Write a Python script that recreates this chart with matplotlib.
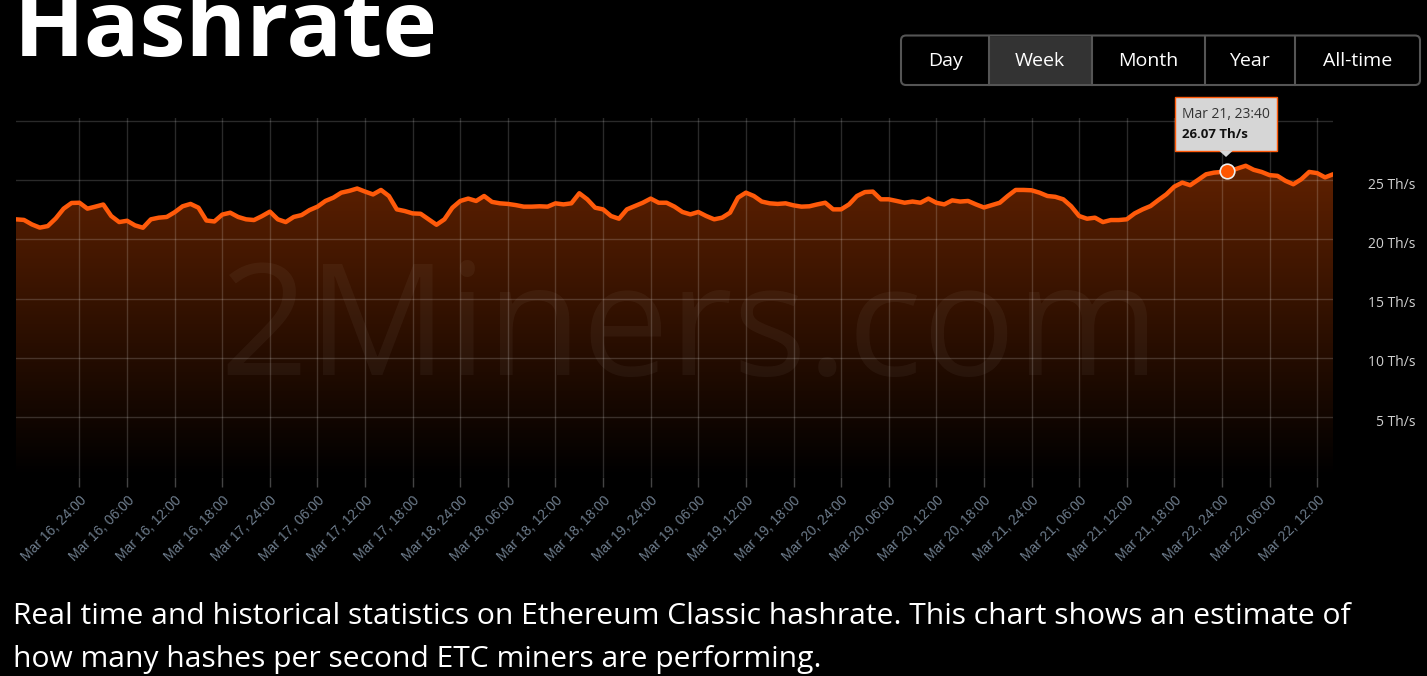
import numpy as np
import matplotlib
matplotlib.use("Agg")
import matplotlib.pyplot as plt
import matplotlib.transforms as mtransforms
from matplotlib.patches import FancyBboxPatch, Rectangle, Polygon

# --- data (hours from Mar 16 00:00) ---
hours = np.arange(-8, 159)
hashrate = np.array([
    21.70, 21.65, 21.27, 21.00, 21.13, 21.77, 22.60, 23.08,   # -8 .. -1
    23.10, 22.60, 22.77, 22.95, 21.98, 21.47, 21.58, 21.19,   # 0 .. 7
    20.99, 21.70, 21.84, 21.90, 22.30, 22.80, 23.00, 22.68,   # 8 .. 15
    21.60, 21.52, 22.10, 22.26, 21.90, 21.70, 21.64, 21.97,   # 16 .. 23
    22.35, 21.70, 21.47, 21.90, 22.06, 22.48, 22.77, 23.25,   # 24 .. 31
    23.53, 23.95, 24.10, 24.30, 24.04, 23.80, 24.18, 23.67,   # 32 .. 39
    22.54, 22.40, 22.20, 22.17, 21.70, 21.24, 21.70, 22.68,   # 40 .. 47
    23.25, 23.45, 23.25, 23.67, 23.17, 23.05, 23.00, 22.90,   # 48 .. 55
    22.77, 22.77, 22.80, 22.77, 23.05, 22.96, 23.05, 23.90,   # 56 .. 63
    23.39, 22.68, 22.54, 21.98, 21.75, 22.54, 22.82, 23.10,   # 64 .. 71
    23.45, 23.10, 23.10, 22.77, 22.32, 22.12, 22.32, 21.98,   # 72 .. 79
    21.70, 21.84, 22.26, 23.53, 23.95, 23.67, 23.20, 23.05,   # 80 .. 87
    23.00, 23.05, 22.88, 22.77, 22.80, 22.96, 23.10, 22.54,   # 88 .. 95
    22.54, 22.96, 23.67, 24.00, 24.04, 23.39, 23.39, 23.25,   # 96 .. 103
    23.10, 23.20, 23.10, 23.45, 23.10, 22.96, 23.30, 23.20,   # 104 .. 111
    23.25, 22.96, 22.70, 22.90, 23.10, 23.67, 24.18, 24.18,   # 112 .. 119
    24.15, 23.95, 23.67, 23.60, 23.39, 22.80, 21.98, 21.75,   # 120 .. 127
    21.84, 21.47, 21.64, 21.64, 21.70, 22.20, 22.54, 22.82,   # 128 .. 135
    23.33, 23.81, 24.46, 24.80, 24.58, 25.03, 25.50, 25.64,   # 136 .. 143
    25.70, 25.76, 26.00, 26.22, 25.88, 25.70, 25.43, 25.37,   # 144 .. 151
    24.95, 24.66, 25.08, 25.70, 25.60, 25.24, 25.50,          # 152 .. 158
])

tick_hours = np.arange(0, 157, 6)
tick_days = [16] * 4 + [17] * 4 + [18] * 4 + [19] * 4 + [20] * 4 + [21] * 4 + [22] * 3
tick_times = ["24:00", "06:00", "12:00", "18:00"] * 7
tick_labels = [f"Mar {d}, {t}" for d, t in zip(tick_days, tick_times)]

y_ticks = [5, 10, 15, 20, 25]
y_labels = [f"{v} Th/s" for v in y_ticks]
grid_values = [5, 10, 15, 20, 25, 30]

buttons = ["Day", "Week", "Month", "Year", "All-time"]
active_button = "Week"

hover_time = 144.6
hover_value = 25.8
hover_date = "Mar 21, 23:40"
hover_text = "26.07 Th/s"

title = "Hashrate"
description = [
    "Real time and historical statistics on Ethereum Classic hashrate. This chart shows an estimate of",
    "how many hashes per second ETC miners are performing.",
]

# --- layout ---
W, H = 1427, 676
LINE = "#ff5a0a"
plt.rcParams["font.family"] = ["Open Sans", "DejaVu Sans"]

fig = plt.figure(figsize=(W / 100, H / 100), dpi=100, facecolor="black")
ax = fig.add_axes([16 / W, 1 - 476.5 / H, (1333 - 16) / W, (476.5 - 118) / H])
ax.set_facecolor("black")
ax.set_xlim(hours[0], hours[-1])
ax.set_ylim(0, 30.25)
for s in ax.spines.values():
    s.set_visible(False)

# gradient area under the line
verts = [(hours[0], 0)] + list(zip(hours, hashrate)) + [(hours[-1], 0)]
area = Polygon(verts, closed=True, facecolor="none", edgecolor="none")
ax.add_patch(area)
vals = np.linspace(0, 30.25, 300)
strength = np.clip(vals / 24.0, 0, 1.1)
img = np.zeros((len(vals), 1, 4))
img[:, 0, 0] = 0.345 * strength
img[:, 0, 1] = 0.118 * strength
img[:, 0, 2] = 0.0
img[:, 0, 3] = 1.0
im = ax.imshow(np.clip(img, 0, 1), extent=(hours[0], hours[-1], 0, 30.25),
               origin="lower", aspect="auto", zorder=1)
im.set_clip_path(area)

# grid
for v in grid_values:
    ax.axhline(v, color="white", alpha=0.17, lw=1, zorder=2)
for t in tick_hours:
    ax.axvline(t, color="white", alpha=0.17, lw=1, zorder=2)

# line and hover point
ax.plot(hours, hashrate, color=LINE, lw=3.2, solid_joinstyle="round",
        solid_capstyle="round", zorder=4)
ax.plot(hover_time, hover_value, "o", ms=10.5, mfc="#ff5500", mec="#eeeeee",
        mew=1.2, zorder=5, clip_on=False)

# x ticks
ax.set_xticks(tick_hours)
ax.set_xticklabels(tick_labels, rotation=45, ha="right", va="top",
                   rotation_mode="anchor", color="#6e7d8d", fontsize=10,
                   family="Liberation Sans")
ax.tick_params(axis="x", length=7, color="#444444", width=1, pad=5)
ax.set_yticks([])

# y labels on the right
trans = mtransforms.blended_transform_factory(ax.transAxes, ax.transData)
for v, lab in zip(y_ticks, y_labels):
    ax.text(1.0623, v - 0.42, lab, transform=trans, ha="right", va="center",
            fontsize=10, color="#d0d0d0", clip_on=False)

# --- overlay in pixel coordinates ---
ov = fig.add_axes([0, 0, 1, 1], facecolor="none")
ov.set_xlim(0, W)
ov.set_ylim(H, 0)
ov.axis("off")

ov.text(690, 375, "2Miners.com", fontsize=112, color="white", alpha=0.045,
        ha="center", va="baseline")

ov.text(14, 56, title, fontsize=66.5, weight="bold", color="white",
        ha="left", va="baseline")

# range buttons
ov.add_patch(FancyBboxPatch((901, 35.5), 519, 49.5,
                            boxstyle="round,pad=0,rounding_size=5",
                            fc="black", ec="#555555", lw=1.5))
cell_edges = [901, 989, 1091.5, 1204.5, 1295, 1420]
for i, name in enumerate(buttons):
    x0, x1 = cell_edges[i], cell_edges[i + 1]
    if name == active_button:
        ov.add_patch(Rectangle((x0, 36.5), x1 - x0, 47.5, fc="#333333", ec="none"))
    if 0 < i:
        ov.plot([x0, x0], [36, 84.5], color="#555555", lw=1.5)
    ov.text((x0 + x1) / 2, 61, name, fontsize=14, color="white",
            ha="center", va="center")

# tooltip
ov.add_patch(Rectangle((1175, 97), 102, 54, fc="#d6d6d6", ec=LINE, lw=1))
ov.add_patch(Polygon([(1219, 150.5), (1233, 150.5), (1226, 157)], closed=True,
                     fc="#d6d6d6", ec="none"))
ov.text(1182, 115, hover_date, fontsize=10, color="#333333", ha="left", va="center")
ov.text(1182, 134, hover_text, fontsize=9.5, weight="bold", color="#111111",
        ha="left", va="center")

# description
ov.text(13, 624, description[0], fontsize=21.6, color="white", ha="left", va="baseline")
ov.text(13, 667, description[1], fontsize=21.6, color="white", ha="left", va="baseline")

fig.savefig("out.png", dpi=100, facecolor="black")
